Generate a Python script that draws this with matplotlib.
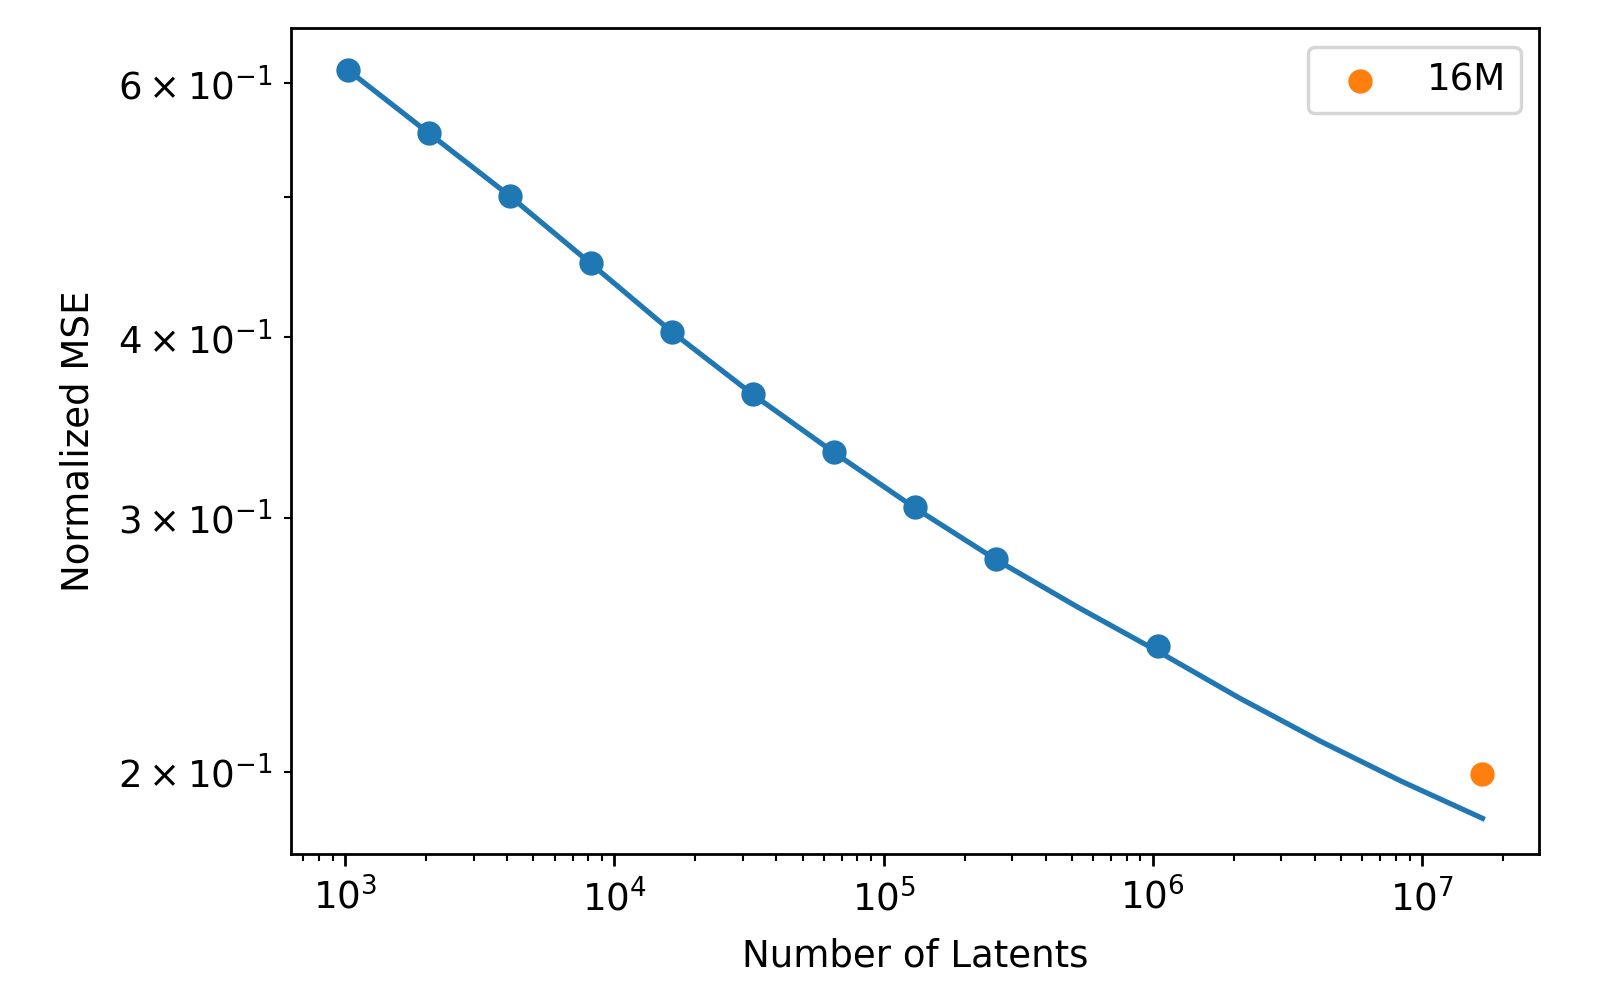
import matplotlib
matplotlib.use("Agg")
import matplotlib.pyplot as plt

# measured points (number of latents, normalized MSE)
latents = [2**10, 2**11, 2**12, 2**13, 2**14, 2**15, 2**16, 2**17, 2**18, 2**20]
mse = [0.6127, 0.5539, 0.5013, 0.4500, 0.4036, 0.3652, 0.3332, 0.3049, 0.2808, 0.2443]

# fitted curve at powers of two
fit_x = [2**10, 2**11, 2**12, 2**13, 2**14, 2**15, 2**16, 2**17, 2**18,
         2**19, 2**20, 2**21, 2**22, 2**23, 2**24]
fit_y = [0.6127, 0.5539, 0.5010, 0.4498, 0.4034, 0.3650, 0.3328, 0.3046, 0.2805,
         0.2602, 0.2423, 0.2250, 0.2100, 0.1970, 0.1857]

# 16M point
big_x = [2**24]
big_y = [0.1992]
big_label = "16M"

plt.rcParams["font.size"] = 10.7

fig = plt.figure(figsize=(6.4, 4.024), dpi=250)
ax = fig.add_axes([0.182, 0.151, 0.780, 0.821])
ax.plot(fit_x, fit_y, color="C0")
ax.scatter(latents, mse, color="C0")
ax.scatter(big_x, big_y, color="C1", label=big_label)
ax.set_xscale("log")
ax.set_yscale("log")
ax.set_ylim(0.1754, 0.655)
ax.set_xlabel("Number of Latents", labelpad=5.5)
ax.set_ylabel("Normalized MSE", labelpad=6)
ax.legend(loc="upper right")
fig.savefig("out.png", dpi=250)
